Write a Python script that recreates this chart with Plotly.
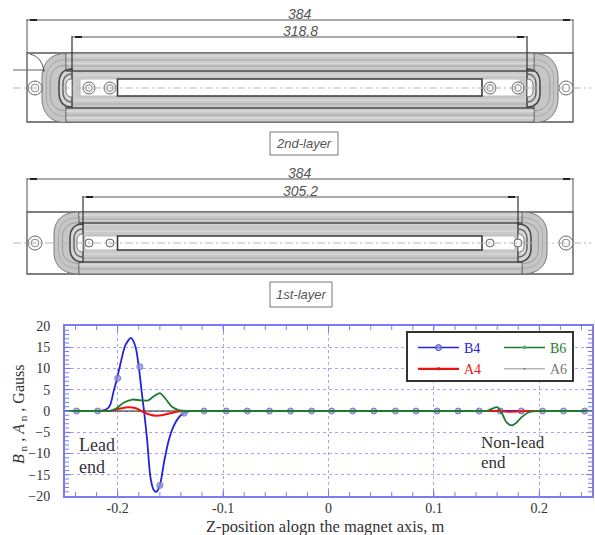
import plotly.graph_objects as go

# ---------- chart data ----------
b4_x = [-0.25, -0.24, -0.23, -0.222, -0.2164, -0.21, -0.207, -0.204, -0.2006, -0.1975, -0.1927, -0.1874, -0.183, -0.18, -0.177, -0.175,
        -0.172, -0.169, -0.166, -0.1633, -0.16, -0.156, -0.1517, -0.147, -0.142, -0.1375, -0.131, -0.126, -0.12, -0.11, -0.09, -0.05, 0.05, 0.25]
b4_y = [0, 0, 0, 0, 0, 0.5, 1.5, 4.5, 7.7, 11, 15.5, 17.2, 15, 10.4, 4, 0,
        -7, -15.5, -18.5, -19, -17.5, -12, -7, -3.6, -1.5, -0.5, 0, 0, 0, 0, 0, 0, 0, 0]
b4_marker_x = [-0.239, -0.219, -0.2, -0.179, -0.16, -0.137, -0.118, -0.097, -0.077, -0.056, -0.036, -0.016,
               0.003, 0.023, 0.043, 0.0635, 0.083, 0.103, 0.123, 0.143, 0.163, 0.183, 0.203, 0.223, 0.243]
b4_marker_y = [0, 0, 7.7, 10.4, -17.5, -0.5, 0, 0, 0, 0, 0, 0,
               0, 0, 0, 0, 0, 0, 0, 0, 0, 0, 0, 0, 0]
b6_x = [-0.25, -0.23, -0.215, -0.207, -0.202, -0.194, -0.186, -0.178, -0.171, -0.166, -0.16, -0.155, -0.1485, -0.142, -0.136,
        -0.131, -0.125, -0.115, -0.09, -0.03, 0.09, 0.125, 0.14, 0.146,
        0.15, 0.155, 0.16, 0.164, 0.169, 0.174, 0.1785, 0.183, 0.19, 0.197, 0.203, 0.212, 0.225, 0.25]
b6_y = [0, 0, 0, 0, 0.5, 2, 2.7, 2.5, 2.5, 3.4, 4.2, 3, 1, 0.2, 0,
        0, 0, 0, 0, 0, 0, 0, 0, 0,
        0, 0.5, 0.9, -0.3, -2.7, -3.4, -2.7, -1.5, -0.3, 0, 0, 0, 0, 0]
a4_x = [-0.25, -0.23, -0.215, -0.207, -0.1975, -0.19, -0.182, -0.176, -0.169, -0.164, -0.156, -0.148, -0.14,
        -0.134, -0.125, -0.11, -0.07, 0.03, 0.11, 0.14, 0.152,
        0.16, 0.17, 0.18, 0.19, 0.196, 0.205, 0.22, 0.25]
a4_y = [0, 0, 0, 0, 0.6, 0.9, 0.6, -0.2, -0.9, -1.1, -0.9, -0.4, 0,
        0, 0, 0, 0, 0, 0, 0, 0,
        0, -0.15, -0.1, 0, 0, 0, 0, 0]
a6_x = [-0.25, 0.25]
a6_y = [0, 0]
x_ticks = [-0.2, -0.1, 0, 0.1, 0.2]
x_tick_labels = ["-0.2", "-0.1", "0", "0.1", "0.2"]
y_ticks = [20, 15, 10, 5, 0, -5, -10, -15, -20]
x_minor_ticks = [k / 100 for k in range(-24, 25, 2)]
y_minor_ticks = list(range(-19, 20))
series_names = ["B4", "B6", "A4", "A6"]
series_colors = ["#2222dd", "#1f7a2f", "#ee1111", "#777777"]
end_labels = ["Lead", "end", "Non-lead", "end"]
x_title = "Z-position alogn the magnet axis, m"
y_title = "<i>B</i><sub> n</sub> , <i>A</i><sub> n</sub> , Gauss"

# ---------- drawing labels ----------
dim_total = "384"
dim_layer2 = "318.8"
dim_layer1 = "305.2"
label_layer2 = "2nd-layer"
label_layer1 = "1st-layer"

W, H = 595, 535
SERIF = "Liberation Serif"
SANS = "Liberation Sans"
INK = "#333333"
AXIS = "#7c7cf2"
GRID = "#a5a5f5"

fig = go.Figure()

fig.add_trace(go.Scatter(x=a6_x, y=a6_y, mode="lines", line=dict(color="#222222", width=1), showlegend=False, hoverinfo="skip"))
fig.add_trace(go.Scatter(x=b4_x, y=b4_y, mode="lines", line=dict(color=series_colors[0], width=1.8, shape="spline", smoothing=0.7), showlegend=False))
fig.add_trace(go.Scatter(x=b4_marker_x, y=b4_marker_y, mode="markers",
                         marker=dict(size=6, color="rgba(150,150,210,0.75)", line=dict(color="#7777cc", width=1)), showlegend=False))
fig.add_trace(go.Scatter(x=a4_x, y=a4_y, mode="lines", line=dict(color=series_colors[2], width=2, shape="spline", smoothing=0.7), showlegend=False))
fig.add_trace(go.Scatter(x=b6_x, y=b6_y, mode="lines", line=dict(color=series_colors[1], width=1.8, shape="spline", smoothing=0.7), showlegend=False))

# legend entries (the curves carry sparse markers, so keys are separate); two columns = two legends
legend_marks = [dict(symbol="circle", size=6, color="rgba(150,150,220,0.7)", line=dict(color="#4444cc", width=1)),
                dict(symbol="circle", size=4, color="#66aa77"),
                dict(symbol="x", size=3, color="#ee1111"),
                dict(symbol="circle", size=1, color="#777777")]
for name, col, mk, w, lg in zip(series_names, series_colors, legend_marks, [1.5, 1.5, 2.2, 0.8],
                                ["legend", "legend2", "legend", "legend2"]):
    fig.add_trace(go.Scatter(x=[None], y=[None], mode="lines+markers", name=f'<span style="color:{col}">{name}</span>',
                             line=dict(color=col, width=w), marker=mk, showlegend=True, legend=lg))

for txt, x, y, sz in zip(end_labels, [-0.239, -0.239, 0.143, 0.143], [-8, -13.2, -7.3, -12], [18, 18, 17, 17]):
    fig.add_annotation(x=x, y=y, text=txt, showarrow=False, xanchor="left", yanchor="middle",
                       font=dict(family=SERIF, size=sz, color=INK))

fig.add_annotation(xref="x2", yref="y2", x=19, y=415, text=y_title, textangle=-90, showarrow=False,
                   font=dict(family=SERIF, size=16, color=INK))
fig.add_annotation(xref="x2", yref="y2", x=325, y=526, text=x_title, showarrow=False,
                   font=dict(family=SERIF, size=16.5, color=INK))

shapes = []
P = dict(xref="x2", yref="y2", layer="above")

# small inward ticks on all four sides of the plot frame
for xv in x_minor_ticks:
    for y0, y1 in ((0, 4/170), (1, 1-4/170)):
        shapes.append(dict(type="line", xref="x", yref="y domain", x0=xv, x1=xv, y0=y0, y1=y1, layer="above",
                           line=dict(color=AXIS, width=1)))
for yv in y_minor_ticks:
    for x0, x1 in ((0, 4/527), (1, 1-4/527)):
        shapes.append(dict(type="line", xref="x domain", yref="y", x0=x0, x1=x1, y0=yv, y1=yv, layer="above",
                           line=dict(color=AXIS, width=1)))


def line(x0, y0, x1, y1, color="#444444", width=1, dash="solid"):
    shapes.append(dict(type="line", x0=x0, y0=y0, x1=x1, y1=y1, line=dict(color=color, width=width, dash=dash), **P))


def rect(x0, y0, x1, y1, fill="rgba(0,0,0,0)", color="#444444", width=1):
    shapes.append(dict(type="rect", x0=x0, y0=y0, x1=x1, y1=y1, fillcolor=fill, line=dict(color=color, width=width), **P))


def cap(xb, dep, cy, h, fill="rgba(0,0,0,0)", color="#555555", width=1):
    path = (f"M {xb},{cy-h} C {xb+dep*0.8},{cy-h} {xb+dep},{cy-h*0.6} {xb+dep},{cy-h*0.3} "
            f"L {xb+dep},{cy+h*0.3} C {xb+dep},{cy+h*0.6} {xb+dep*0.8},{cy+h} {xb},{cy+h}")
    if fill != "rgba(0,0,0,0)":
        path += " Z"
    shapes.append(dict(type="path", path=path, fillcolor=fill, line=dict(color=color, width=width), **P))


def circle(cx, cy, r, color="#555555", fill="rgba(0,0,0,0)", width=1):
    shapes.append(dict(type="circle", x0=cx-r, y0=cy-r, x1=cx+r, y1=cy+r, fillcolor=fill, line=dict(color=color, width=width), **P))


def arrow_dim(y, x0, x1, width=1):
    line(x0, y, x1, y, "#555555", width)
    line(x0+3, y, x0+10, y, "#222222", 2)
    line(x1-3, y, x1-10, y, "#222222", 2)


def text(x, y, s, size=14):
    fig.add_annotation(xref="x2", yref="y2", x=x, y=y, text=f"<i>{s}</i>", showarrow=False,
                       font=dict(family=SANS, size=size, color="#555555"))


def layer(outer_top, outer_bot, cy, y_384, y_dim, xl, xr, capl, capr, inner_top, inner_bot,
          stripes, darks, pocket_l, pocket_r, holes, hole_r, outer_hole_r, num, lab, lab_box):
    # outer frame
    rect(27, outer_top, 573, outer_bot, color="#555555", width=1.3)
    # coil ends
    h = (outer_bot - outer_top) / 2
    cap(capl[0], capl[1], cy, h, fill="#c6c6c6", color="#777777")
    cap(capr[0], capr[1], cy, h, fill="#c6c6c6", color="#777777")
    for k, g in zip([0.82, 0.66], ["#a8a8a8", "#9a9a9a"]):
        cap(capl[0], capl[1]*k, cy, h*k, color=g)
        cap(capr[0], capr[1]*k, cy, h*k, color=g)
    # straight section
    rect(capl[0], outer_top, capr[0], outer_bot, fill="#c9c9c9", color="#666666", width=1)
    for y, c in stripes:
        line(capl[0], y, capr[0], y, c, 1.2)
    # inner turns at the ends
    for base, sgn in ((xl, -1), (xr, 1)):
        cap(base, sgn*13, cy, 19, fill="#d5d5d5", color="#444444", width=1.5)
        cap(base, sgn*9, cy, 14, color="#666666", width=1.5)
        cap(base, sgn*6, cy, 9, fill="#ffffff", color="#777777")
    for y in darks:
        line(capl[0], y, capr[0], y, "#4a4a4a", 1.6)
    # opening
    rect(pocket_l, inner_top, pocket_r, inner_bot, fill="#ffffff", color="#bbbbbb")
    rect(117.5, inner_top, 482, inner_bot, fill="#ffffff", color="#3a3a3a", width=1.6)
    for x in holes:
        circle(x, cy, hole_r, fill="#f4f4f4", color="#666666")
        if hole_r > 4:
            circle(x, cy, hole_r*0.55, color="#888888")
    for x in (35, 566):
        circle(x, cy, outer_hole_r, color="#666666", fill="#ffffff")
        circle(x, cy, outer_hole_r*0.55, color="#888888")
    # centre line
    line(13, cy, 591, cy, "#b5b5b5", 1, "8px,3px,2px,3px")
    # dimensions
    line(27, y_384-1, 27, outer_top, "#555555", 1)
    line(573, y_384-1, 573, outer_top, "#555555", 1)
    line(xl, y_dim-1, xl, cy-18, "#333333", 1.2)
    line(xr, y_dim-1, xr, cy-18, "#333333", 1.2)
    arrow_dim(y_384, 27, 573)
    arrow_dim(y_dim, xl, xr)
    text(300, y_384-6, dim_total, 14)
    text(300, y_dim-6, num, 14)
    rect(*lab_box, color="#777777")
    text((lab_box[0]+lab_box[2])/2, (lab_box[1]+lab_box[3])/2, lab, 13)


layer(53, 122, 88, 20, 37, 72, 527, (66, -24), (534, 24), 79, 96,
      [(56, "#e0e0e0"), (60, "#aaaaaa"), (63, "#e2e2e2"), (66, "#a8a8a8"), (75, "#dddddd"),
       (100, "#e0e0e0"), (104, "#aaaaaa"), (111, "#e4e4e4"), (115, "#a5a5a5"), (118, "#e6e6e6")],
      [71, 108], 80, 520, [89, 110, 490, 518], 6, 7, dim_layer2, label_layer2, (270, 132, 338, 155))
line(13, 70, 45, 70, "#666666", 1)
shapes.append(dict(type="path", path="M 30,54 C 38,56 43,62 44,72", line=dict(color="#555555", width=1), **P))

layer(212, 274, 243, 179, 197, 83, 518, (79, -25), (522, 25), 236, 250,
      [(215, "#e2e2e2"), (219, "#aaaaaa"), (224, "#e2e2e2"), (231, "#dddddd"),
       (254, "#e0e0e0"), (258, "#aaaaaa"), (265, "#e4e4e4"), (269, "#a5a5a5")],
      [223, 262], 85, 515, [89, 110, 490, 518], 4, 7, dim_layer1, label_layer1, (270, 282, 332, 307))

# legend frame
rect(407, 332, 573, 381, fill="#ffffff", color="#333333", width=2)

legend_common = dict(orientation="v", xanchor="left", yanchor="top", bgcolor="rgba(0,0,0,0)", borderwidth=0,
                     font=dict(family=SERIF, size=14), itemwidth=41, tracegroupgap=0)

fig.update_layout(
    width=W, height=H, autosize=False, margin=dict(l=0, r=0, t=0, b=0),
    paper_bgcolor="white", plot_bgcolor="rgba(0,0,0,0)", shapes=shapes,
    hovermode=False,
    font=dict(family=SERIF, color=INK),
    legend=dict(x=413/W, y=1-332/H, **legend_common),
    legend2=dict(x=499/W, y=1-332/H, **legend_common),
    xaxis=dict(domain=[65/W, 592/W], anchor="y", range=[-0.25, 0.25], tickvals=x_ticks, ticktext=x_tick_labels,
               ticks="inside", ticklen=6, tickcolor=AXIS, tickwidth=1, automargin=False, ticklabelstandoff=-2,
               showline=True, linecolor=AXIS, linewidth=2, mirror="allticks",
               showgrid=True, gridcolor=GRID, griddash="dot", gridwidth=1, zeroline=False,
               tickfont=dict(family=SERIF, size=14, color=INK)),
    yaxis=dict(domain=[1-496/H, 1-326/H], anchor="x", range=[-20, 20], tickvals=y_ticks,
               ticks="inside", ticklen=6, tickcolor=AXIS, tickwidth=1, automargin=False, ticklabelstandoff=10,
               showline=True, linecolor=AXIS, linewidth=2, mirror="allticks",
               showgrid=True, gridcolor=GRID, griddash="dot", gridwidth=1, zeroline=False,
               tickfont=dict(family=SERIF, size=14, color=INK)),
    xaxis2=dict(domain=[0, 1], range=[0, W], anchor="y2", visible=False, fixedrange=True, automargin=False),
    yaxis2=dict(domain=[0, 1], range=[H, 0], anchor="x2", visible=False, fixedrange=True, automargin=False),
)
# keep the pixel axes active with an invisible carrier trace
fig.add_trace(go.Scatter(x=[0, W], y=[0, H], xaxis="x2", yaxis="y2", mode="markers", marker=dict(opacity=0), showlegend=False, hoverinfo="skip"))

fig.write_html("out.html", config=dict(displayModeBar=False),
               post_script="document.body.style.margin='0';document.documentElement.style.overflow='hidden';")
